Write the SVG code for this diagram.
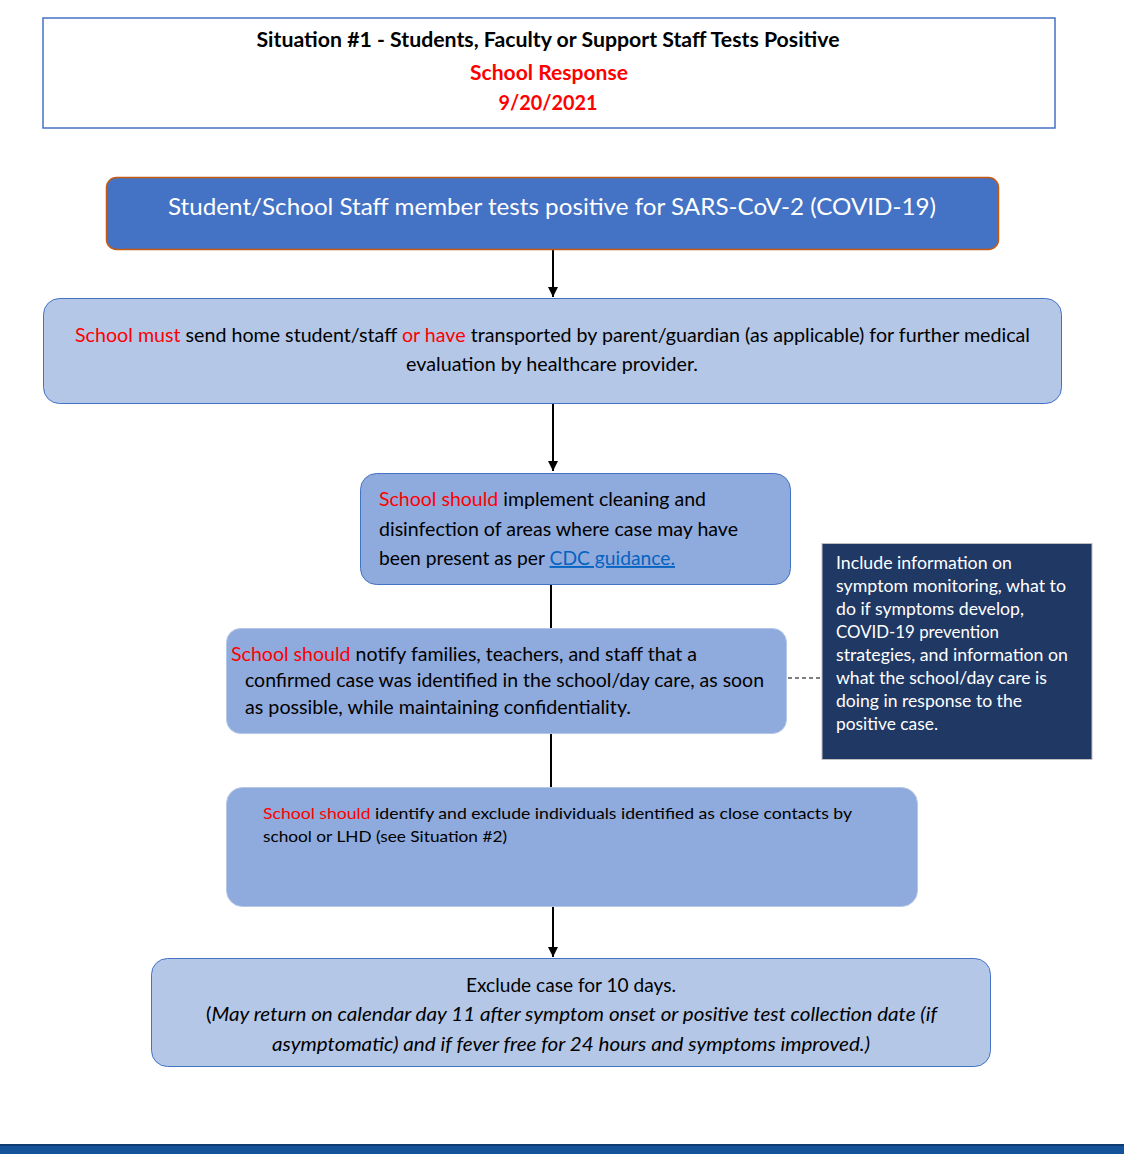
<svg xmlns="http://www.w3.org/2000/svg" width="1124" height="1154" viewBox="0 0 1124 1154">
<defs>
<style>
text{font-family:Lato,"Open Sans","Liberation Sans",sans-serif;fill:#000;}
.t{font-weight:bold;font-size:20px;}
.red{fill:#FF0000;}
.w{fill:#FFFFFF;}
.b19{font-size:19px;}
.b17{font-size:17px;}
.b16{font-size:16px;}
.link{fill:#0563C1;text-decoration:underline;}
.conn{stroke:#000;stroke-width:2;fill:none;}
</style>
<marker id="ah" viewBox="0 0 10 10" refX="10" refY="5" markerWidth="5" markerHeight="5" orient="auto" markerUnits="strokeWidth">
<path d="M0,0 L10,5 L0,10 z" fill="#000"/>
</marker>
</defs>
<rect x="0" y="0" width="1124" height="1154" fill="#FFFFFF"/>

<g id="title">
<rect x="43" y="18" width="1012" height="110" fill="#FFFFFF" stroke="#4472C4" stroke-width="1.5"/>
<text class="t" x="548" y="47" text-anchor="middle" textLength="583" lengthAdjust="spacingAndGlyphs">Situation #1 - Students, Faculty or Support Staff Tests Positive</text>
<text class="t red" x="549" y="80" text-anchor="middle" textLength="158" lengthAdjust="spacingAndGlyphs">School Response</text>
<text class="t red" x="548" y="110" text-anchor="middle" textLength="99" lengthAdjust="spacingAndGlyphs">9/20/2021</text>
</g>

<g id="connectors">
<line class="conn" x1="553" y1="250" x2="553" y2="297" marker-end="url(#ah)"/>
<line class="conn" x1="553" y1="404" x2="553" y2="471" marker-end="url(#ah)"/>
<line class="conn" x1="551" y1="585" x2="551" y2="628"/>
<line class="conn" x1="551" y1="734" x2="551" y2="787"/>
<line class="conn" x1="553" y1="907" x2="553" y2="957" marker-end="url(#ah)"/>
<line x1="788" y1="678" x2="822" y2="678" stroke="#000" stroke-width="1.2" stroke-dasharray="4,3"/>
</g>

<g id="n1">
<rect x="106.5" y="177.5" width="892" height="72" rx="10" fill="#4472C4" stroke="#C55A11" stroke-width="1.5"/>
<text class="w" x="552" y="215" font-size="24" text-anchor="middle" textLength="768" lengthAdjust="spacingAndGlyphs">Student/School Staff member tests positive for SARS-CoV-2 (COVID-19)</text>
</g>

<g id="n2">
<rect x="43.5" y="298.5" width="1018" height="105" rx="16" fill="#B4C7E7" stroke="#4472C4" stroke-width="1"/>
<text class="b19" x="75" y="342" textLength="955" lengthAdjust="spacingAndGlyphs"><tspan class="red">School must</tspan> send home student/staff <tspan class="red">or have</tspan> transported by parent/guardian (as applicable) for further medical</text>
<text class="b19" x="406" y="371" textLength="292" lengthAdjust="spacingAndGlyphs">evaluation by healthcare provider.</text>
</g>

<g id="n3">
<rect x="360.5" y="473.5" width="430" height="111" rx="16" fill="#8FAADC" stroke="#4472C4" stroke-width="1"/>
<text class="b19" x="379" y="506" textLength="327" lengthAdjust="spacingAndGlyphs"><tspan class="red">School should</tspan> implement cleaning and</text>
<text class="b19" x="379" y="536" textLength="359" lengthAdjust="spacingAndGlyphs">disinfection of areas where case may have</text>
<text class="b19" x="379" y="565" textLength="296" lengthAdjust="spacingAndGlyphs">been present as per <tspan class="link">CDC guidance.</tspan></text>
</g>

<g id="n4">
<rect x="226.5" y="628.5" width="560" height="105" rx="14" fill="#8FAADC" stroke="#B4C7E7" stroke-width="1"/>
<text class="b19" x="231" y="661" textLength="466" lengthAdjust="spacingAndGlyphs"><tspan class="red">School should</tspan> notify families, teachers, and staff that a</text>
<text class="b19" x="245" y="687" textLength="519" lengthAdjust="spacingAndGlyphs">confirmed case was identified in the school/day care, as soon</text>
<text class="b19" x="245" y="714" textLength="386" lengthAdjust="spacingAndGlyphs">as possible, while maintaining confidentiality.</text>
</g>

<g id="n4note">
<rect x="822" y="543.5" width="270" height="216" fill="#203864" stroke="#BFBFBF" stroke-width="1"/>
<text class="b17 w" x="836" y="569" textLength="176" lengthAdjust="spacingAndGlyphs">Include information on</text>
<text class="b17 w" x="836" y="592" textLength="230" lengthAdjust="spacingAndGlyphs">symptom monitoring, what to</text>
<text class="b17 w" x="836" y="615" textLength="188" lengthAdjust="spacingAndGlyphs">do if symptoms develop,</text>
<text class="b17 w" x="836" y="638" textLength="163" lengthAdjust="spacingAndGlyphs">COVID-19 prevention</text>
<text class="b17 w" x="836" y="661" textLength="232" lengthAdjust="spacingAndGlyphs">strategies, and information on</text>
<text class="b17 w" x="836" y="684" textLength="211" lengthAdjust="spacingAndGlyphs">what the school/day care is</text>
<text class="b17 w" x="836" y="707" textLength="186" lengthAdjust="spacingAndGlyphs">doing in response to the</text>
<text class="b17 w" x="836" y="730" textLength="102" lengthAdjust="spacingAndGlyphs">positive case.</text>
</g>

<g id="n5">
<rect x="226.5" y="787.5" width="691" height="119" rx="16" fill="#8FAADC" stroke="#B4C7E7" stroke-width="1"/>
<text class="b16" x="263" y="819" textLength="589" lengthAdjust="spacingAndGlyphs"><tspan class="red">School should</tspan> identify and exclude individuals identified as close contacts by</text>
<text class="b16" x="263" y="842" textLength="244" lengthAdjust="spacingAndGlyphs">school or LHD (see Situation #2)</text>
</g>

<g id="n6">
<rect x="151.5" y="958.5" width="839" height="108" rx="16" fill="#B4C7E7" stroke="#4472C4" stroke-width="1"/>
<text class="b19" x="466" y="992" textLength="210" lengthAdjust="spacingAndGlyphs">Exclude case for 10 days.</text>
<text class="b19" x="206" y="1021" textLength="731" lengthAdjust="spacingAndGlyphs">(<tspan font-style="italic">May return on calendar day 11 after symptom onset or positive test collection date (if</tspan></text>
<text class="b19" x="272" y="1051" font-style="italic" textLength="598" lengthAdjust="spacingAndGlyphs">asymptomatic) and if fever free for 24 hours and symptoms improved.)</text>
</g>

<g id="footer">
<rect x="0" y="1144" width="1124" height="10" fill="#14529A"/>
<rect x="0" y="1144" width="1124" height="2" fill="#0E3C70"/>
</g>
</svg>
